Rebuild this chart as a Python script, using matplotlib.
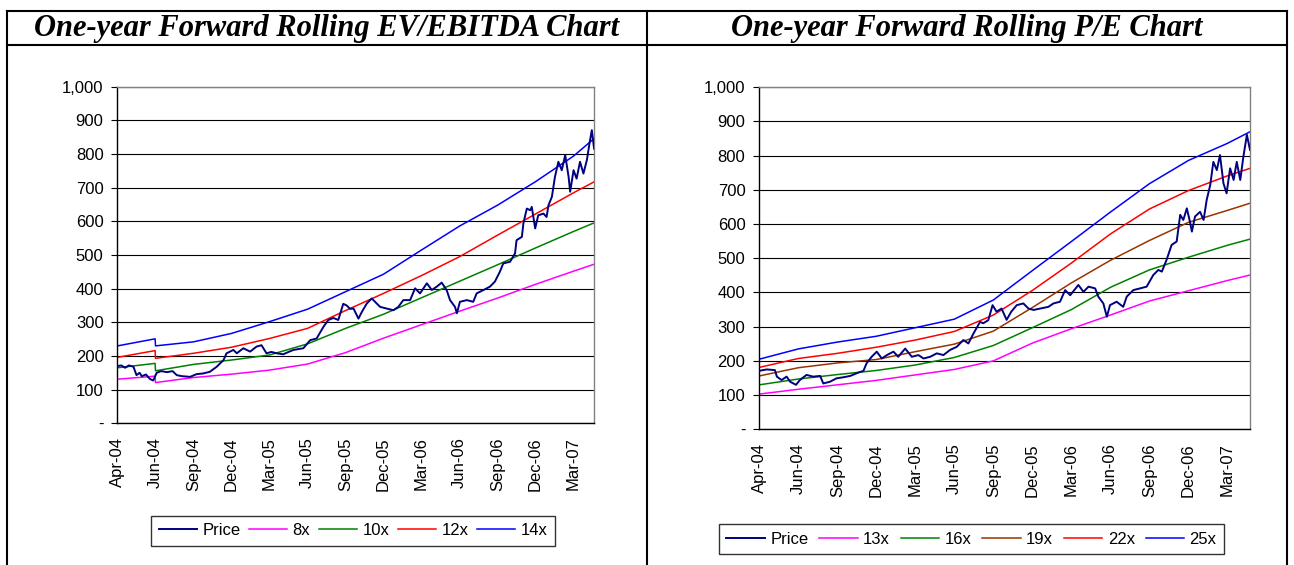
import matplotlib.pyplot as plt
from matplotlib.lines import Line2D
from matplotlib.ticker import FuncFormatter, MultipleLocator
import numpy as np

plt.rcParams['font.family'] = ['Liberation Sans', 'DejaVu Sans']

# x positions are in "tick units": 0 = Apr-04, 1 = Jun-04, ... 12 = Mar-07
tick_labels = ['Apr-04', 'Jun-04', 'Sep-04', 'Dec-04', 'Mar-05', 'Jun-05', 'Sep-05',
               'Dec-05', 'Mar-06', 'Jun-06', 'Sep-06', 'Dec-06', 'Mar-07']

# ---- left chart: EV/EBITDA ----
ev_u = [0, 0.99, 1.0, 2, 3, 4, 5, 6, 7, 8, 9, 10, 11, 12, 12.55]
ev_8x = [131, 140, 121, 136, 146, 158, 176, 210, 253, 293, 333, 372, 413, 452, 473]
ev_10x = [165, 178, 156, 175, 188, 203, 236, 282, 324, 373, 422, 471, 521, 570, 596]
ev_12x = [196, 216, 193, 208, 226, 252, 282, 335, 386, 439, 495, 559, 622, 685, 718]
ev_14x = [230, 251, 230, 242, 267, 302, 339, 391, 443, 515, 586, 648, 718, 794, 847]

ev_price_u = [0, 0.1, 0.2, 0.3, 0.42, 0.5, 0.58, 0.64, 0.75, 0.85, 0.94, 1.03, 1.15, 1.3,
              1.45, 1.56, 1.7, 1.91, 2.08, 2.25, 2.43, 2.61, 2.79, 2.87, 3.05, 3.14, 3.31,
              3.49, 3.66, 3.79, 3.92, 4.05, 4.19, 4.36, 4.5, 4.63, 4.89, 5.07, 5.24, 5.42,
              5.55, 5.68, 5.81, 5.94, 6.03, 6.12, 6.21, 6.34, 6.43, 6.56, 6.69, 6.82, 6.91,
              7.08, 7.26, 7.39, 7.52, 7.70, 7.83, 7.96, 8.14, 8.27, 8.40, 8.53, 8.66, 8.75,
              8.88, 8.93, 9.01, 9.19, 9.36, 9.45, 9.63, 9.80, 9.93, 10.06, 10.15, 10.33,
              10.46, 10.50, 10.64, 10.68, 10.77, 10.86, 10.90, 10.99, 11.07, 11.21, 11.29,
              11.34, 11.43, 11.51, 11.60, 11.69, 11.78, 11.87, 11.91, 12.00, 12.08, 12.17,
              12.26, 12.35, 12.42, 12.48, 12.54]
ev_price = [170, 172, 165, 172, 168, 143, 150, 140, 145, 132, 127, 150, 155, 152,
            155, 143, 140, 138, 146, 148, 153, 168, 188, 208, 218, 208, 223,
            213, 228, 232, 208, 212, 208, 205, 212, 218, 223, 247, 252, 287,
            307, 313, 307, 355, 350, 340, 341, 311, 331, 356, 371, 356, 346,
            341, 336, 346, 366, 366, 401, 386, 416, 396, 406, 418, 396, 366,
            346, 327, 361, 366, 361, 386, 396, 406, 421, 450, 475, 480,
            505, 544, 554, 594, 638, 633, 643, 579, 618, 623, 613,
            648, 673, 732, 777, 752, 797, 732, 688, 752, 727, 777,
            742, 782, 832, 871, 816]

# ---- right chart: P/E ----
pe_u = [0, 1, 2, 3, 4, 5, 6, 7, 8, 9, 10, 11, 12, 12.58]
pe_13x = [103, 117, 130, 143, 159, 175, 200, 252, 294, 334, 375, 405, 435, 451]
pe_16x = [130, 147, 160, 172, 188, 210, 245, 297, 350, 415, 466, 503, 538, 556]
pe_19x = [156, 180, 194, 204, 227, 249, 287, 356, 428, 494, 552, 605, 640, 661]
pe_22x = [181, 207, 222, 240, 261, 286, 334, 406, 486, 571, 644, 698, 741, 763]
pe_25x = [205, 235, 255, 272, 297, 322, 378, 464, 549, 635, 718, 786, 836, 870]

pe_price_u = [0, 0.19, 0.40, 0.45, 0.57, 0.70, 0.79, 0.94, 1.04, 1.21, 1.38, 1.56, 1.64,
              1.81, 1.98, 2.15, 2.33, 2.50, 2.67, 2.75, 2.88, 3.01, 3.14, 3.27, 3.44, 3.56,
              3.74, 3.91, 4.08, 4.21, 4.38, 4.55, 4.72, 4.89, 5.06, 5.23, 5.36, 5.49, 5.66,
              5.74, 5.87, 5.98, 6.08, 6.21, 6.34, 6.46, 6.60, 6.77, 6.90, 7.03, 7.20, 7.41,
              7.54, 7.71, 7.84, 7.97, 8.18, 8.31, 8.44, 8.61, 8.69, 8.82, 8.91, 8.99, 9.16,
              9.33, 9.42, 9.59, 9.76, 9.93, 10.10, 10.23, 10.32, 10.44, 10.57, 10.70, 10.79,
              10.87, 10.96, 11.04, 11.09, 11.17, 11.30, 11.39, 11.47, 11.56, 11.64, 11.73,
              11.81, 11.90, 11.98, 12.07, 12.16, 12.24, 12.33, 12.41, 12.50, 12.58]
pe_price = [171, 175, 173, 154, 144, 154, 139, 130, 144, 159, 154, 156, 134,
            139, 149, 152, 156, 164, 171, 193, 212, 227, 207, 217, 227, 212,
            236, 212, 217, 207, 212, 222, 217, 232, 241, 261, 251, 280, 314,
            310, 319, 363, 344, 353, 320, 344, 363, 368, 353, 349, 353, 358,
            368, 373, 407, 392, 422, 402, 417, 412, 388, 368, 329, 363, 373,
            358, 388, 407, 412, 417, 451, 466, 461, 495, 539, 549, 627,
            612, 646, 607, 578, 622, 636, 612, 671, 714, 782, 758,
            802, 719, 690, 763, 729, 782, 729, 797, 861, 817]

C_PRICE = '#000080'
C_MAG = '#FF00FF'
C_GRN = '#008000'
C_RED = '#FF0000'
C_BLU = '#0000FF'
C_BRN = '#993300'

fig = plt.figure(figsize=(12.94, 5.65), dpi=100)


def style_axes(ax, xmax):
    ax.set_ylim(0, 1000)
    ax.set_xlim(0, xmax)
    ax.yaxis.set_major_locator(MultipleLocator(100))
    ax.yaxis.set_major_formatter(FuncFormatter(lambda v, p: '-' if v == 0 else f'{int(v):,}'))
    ax.set_xticks(range(len(tick_labels)))
    ax.set_xticklabels(tick_labels, rotation=90)
    ax.tick_params(axis='x', length=0, pad=10, labelsize=12)
    ax.tick_params(axis='y', length=4, width=0.8, direction='out', pad=6, labelsize=12)
    ax.grid(axis='y', color='#000000', linewidth=0.8)
    ax.set_axisbelow(True)
    ax.spines['left'].set_color('black')
    ax.spines['bottom'].set_color('black')
    ax.spines['top'].set_color('#808080')
    ax.spines['right'].set_color('#808080')
    for s in ax.spines.values():
        s.set_linewidth(1.0)


ax1 = fig.add_axes([0.0908, 0.2508, 0.3686, 0.5957])
ax1.plot(ev_price_u, ev_price, color=C_PRICE, lw=1.4, label='Price', zorder=5)
ax1.plot(ev_u, ev_8x, color=C_MAG, lw=1.1, label='8x')
ax1.plot(ev_u, ev_10x, color=C_GRN, lw=1.1, label='10x')
ax1.plot(ev_u, ev_12x, color=C_RED, lw=1.1, label='12x')
ax1.plot(ev_u, ev_14x, color=C_BLU, lw=1.1, label='14x')
style_axes(ax1, 12.55)

ax2 = fig.add_axes([0.5868, 0.2402, 0.3792, 0.6053])
ax2.plot(pe_price_u, pe_price, color=C_PRICE, lw=1.4, label='Price', zorder=5)
ax2.plot(pe_u, pe_13x, color=C_MAG, lw=1.1, label='13x')
ax2.plot(pe_u, pe_16x, color=C_GRN, lw=1.1, label='16x')
ax2.plot(pe_u, pe_19x, color=C_BRN, lw=1.1, label='19x')
ax2.plot(pe_u, pe_22x, color=C_RED, lw=1.1, label='22x')
ax2.plot(pe_u, pe_25x, color=C_BLU, lw=1.1, label='25x')
style_axes(ax2, 12.58)

leg_kw = dict(ncol=6, frameon=True, fancybox=False, edgecolor='black', fontsize=12,
              handlelength=2.3, handletextpad=0.33, borderpad=0.45, loc='center')
lg1 = ax1.legend(bbox_to_anchor=(0.2728, 0.061), bbox_transform=fig.transFigure,
                 columnspacing=0.5, **leg_kw)
lg2 = ax2.legend(bbox_to_anchor=(0.7508, 0.046), bbox_transform=fig.transFigure,
                 columnspacing=0.65, **leg_kw)
for lg in (lg1, lg2):
    lg.get_frame().set_linewidth(1.0)

# table-like frame around the two charts
W, H = 1294.0, 565.0
def hline(y, x0, x1):
    fig.add_artist(Line2D([x0 / W, x1 / W], [1 - y / H, 1 - y / H], color='black', lw=1.5,
                          transform=fig.transFigure))
def vline(x, y0, y1):
    fig.add_artist(Line2D([x / W, x / W], [1 - y0 / H, 1 - y1 / H], color='black', lw=1.5,
                          transform=fig.transFigure))

hline(11, 7, 1287)
hline(45, 7, 1287)
vline(7, 11, 565)
vline(647, 11, 565)
vline(1287, 11, 565)

title_kw = dict(fontsize=22, fontweight='bold', fontstyle='italic', family='Liberation Serif',
                ha='center', va='center', transform=fig.transFigure)
fig.text(327 / W, 1 - 28.5 / H, 'One-year Forward Rolling EV/EBITDA Chart', **title_kw)
fig.text(967 / W, 1 - 28.5 / H, 'One-year Forward Rolling P/E Chart', **title_kw)

fig.savefig('out.png', dpi=100)
